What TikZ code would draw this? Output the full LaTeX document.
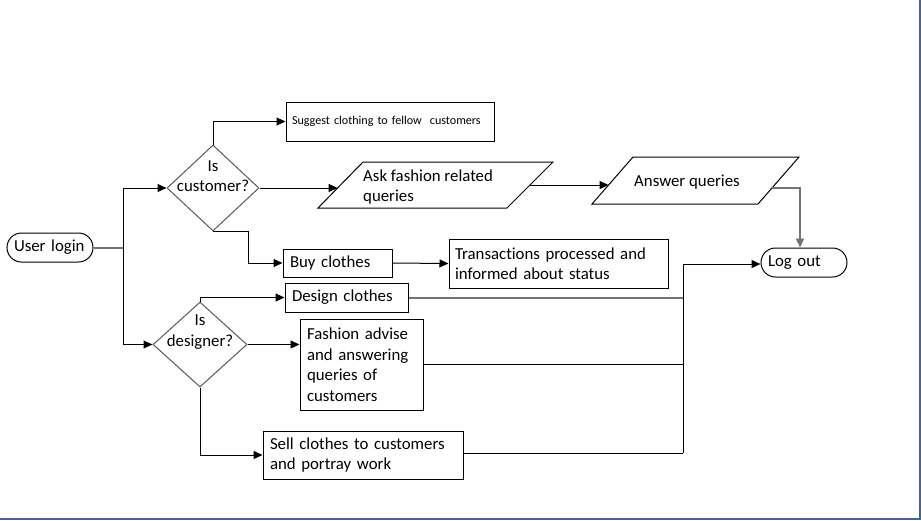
\documentclass[tikz,border=0pt]{standalone}
\usepackage{fontspec}
\setmainfont[Ligatures=NoCommon]{Carlito}
\usetikzlibrary{shapes.geometric,arrows.meta}
\newcommand\mainsz{\fontsize{16.8}{20.5}\selectfont}
\newcommand\smallsz{\fontsize{12.1}{13}\selectfont}
\definecolor{framecol}{RGB}{70,100,145}
\begin{document}
\begin{tikzpicture}[x=1pt,y=-1pt,
  ln/.style={line width=1pt,draw=black},
  gln/.style={line width=2pt,draw=black!55},
  arr/.style={ln,-{Triangle[length=9pt,width=8pt]}},
  garr/.style={gln,-{Triangle[length=9pt,width=8pt]}},
  box/.style={draw,line width=1pt,rectangle,inner xsep=7pt,inner ysep=0pt,align=left,font=\mainsz},
  term/.style={draw,line width=1pt,rectangle,rounded corners=14.5pt,minimum height=29pt,inner xsep=7pt,inner ysep=0pt,text width=72pt,align=left,font=\mainsz},
  dia/.style={draw=black!65,line width=1pt,diamond,inner sep=0pt},
  para/.style={line width=1pt,draw=black},
  txt/.style={inner sep=0pt,align=left,font=\mainsz},
  ctxt/.style={inner sep=0pt,align=center,font=\mainsz}
]
\useasboundingbox (0,0) rectangle (921,520);
\fill[white] (0,0) rectangle (921,520);
% frame
\fill[framecol] (919,0) rectangle (921,520);
\fill[framecol] (0,517.5) rectangle (921,520);

% terminals
\node[term] (login) at (50,247.5) {User login};
\node[term] (logout) at (804,262.5) {Log out};

% decisions
\node[dia,minimum width=92pt,minimum height=86pt] (cust) at (213,188) {};
\node[ctxt] (custtxt) at (213,176) {Is\\customer?};
\node[dia,minimum width=94pt,minimum height=85pt] (des) at (200,344.5) {};
\node[ctxt] (destxt) at (200,332) {Is\\designer?};

% boxes
\node[box,inner xsep=6pt,text width=196pt,minimum height=39pt,font=\smallsz] (sug) at (390,121.5) {Suggest clothing to fellow~ customers};
\node[box,text width=95pt,minimum height=28pt] (buy) at (337.5,263) {Buy clothes};
\node[box,inner xsep=6pt,text width=207pt,minimum height=49pt] (trans) at (558.5,263.5) {Transactions processed and\\informed about status};
\node[box,text width=109pt,minimum height=29pt] (design) at (346.5,297.5) {Design clothes};
\node[box,text width=109pt,minimum height=91pt] (fash) at (361.5,364.5) {Fashion advise\\and answering\\queries of\\customers};
\node[box,text width=186pt,minimum height=48pt] (sell) at (363,455) {Sell clothes to customers\\and portray work};

% parallelograms
\draw[para] (318,208) -- (363,162) -- (553,162) -- (507,208) -- cycle;
\node[txt,anchor=west] (ask) at (363,187) {Ask fashion related\\queries};
\coordinate (askin) at (337.6,188);
\coordinate (askout) at (530,185);
\draw[para] (592,204) -- (633,157) -- (799,157) -- (758,204) -- cycle;
\node[txt,anchor=west] (ans) at (634,182) {Answer queries};
\coordinate (ansin) at (608.6,185);
\coordinate (ansout) at (772,188);

% connectors
\coordinate (jn) at (123,247.5);
\draw[gln] (login.east) -- (jn);
\draw[arr] (jn) |- (cust.west);
\draw[arr] (jn) |- (des.west);
\draw[arr] (cust.north) |- (sug.west);
\draw[arr] (cust.east) -- (askin);
\draw[arr] (cust.south) -- ++(35,0) |- (buy.west);
\draw[arr] (buy.east) -- (trans.west);
\draw[arr] (askout) -- (ansin);
\draw[garr] (ansout) -| ([xshift=-4pt]logout.north);

\draw[arr] (des.north) |- (design.west);
\draw[arr] (des.east) -- (des.east -| fash.west);
\draw[arr] (des.south) |- (sell.west);

\coordinate (bus) at (683,264);
\draw[gln] (design.east) -- (design.east -| bus);
\draw[ln] (fash.east) -- (fash.east -| bus);
\draw[ln] ([yshift=2pt]sell.east) -- ([yshift=2pt]sell.east -| bus);
\draw[arr] ([yshift=2pt]sell.east -| bus) -- (bus) -- (bus -| logout.west);
\end{tikzpicture}
\end{document}
